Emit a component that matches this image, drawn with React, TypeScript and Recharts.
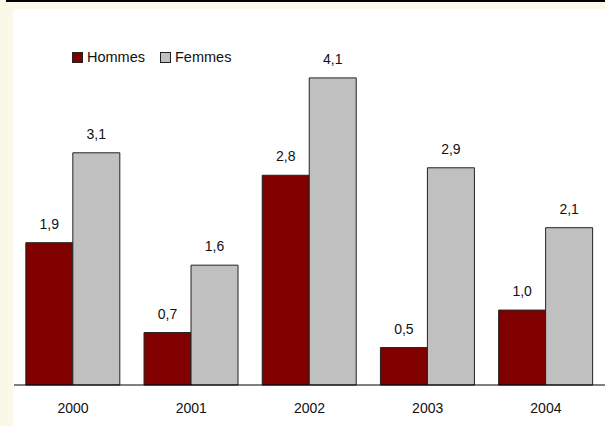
import { Bar, BarChart, LabelList, Legend, XAxis, YAxis } from "recharts";

const years = ["2000", "2001", "2002", "2003", "2004"];
const hommes = [1.9, 0.7, 2.8, 0.5, 1.0];
const femmes = [3.1, 1.6, 4.1, 2.9, 2.1];

const data = years.map((year, i) => ({ year, hommes: hommes[i], femmes: femmes[i] }));

const FONT = "'Liberation Sans', Arial, sans-serif";
const fmt = (v: unknown) => Number(v).toFixed(1).replace(".", ",");

function LegendBox() {
  const items = [
    { label: "Hommes", color: "#800000" },
    { label: "Femmes", color: "#C0C0C0" },
  ];
  return (
    <div style={{ display: "flex", alignItems: "center", fontFamily: FONT, fontSize: 14.5, color: "#111" }}>
      {items.map((it, i) => (
        <div key={it.label} style={{ display: "flex", alignItems: "center", marginRight: i === 0 ? 15 : 0 }}>
          <span style={{ width: 9, height: 9, background: it.color, border: "1px solid #222", marginRight: 4, display: "inline-block" }} />
          <span>{it.label}</span>
        </div>
      ))}
    </div>
  );
}

export default function App() {
  return (
    <div style={{ position: "absolute", top: 0, left: 0, width: 605, height: 426, background: "#FAF8E6", overflow: "hidden" }}>
      <div style={{ position: "absolute", top: 0, left: 6, width: 599, height: 2, background: "#000" }} />
      <div style={{ position: "absolute", top: 9, left: 13, width: 592, height: 417, background: "#fff" }} />
      <div style={{ position: "absolute", top: 0, left: 0 }}>
        <BarChart
          width={605}
          height={426}
          data={data}
          margin={{ top: 10.5, right: 0, bottom: 0, left: 14 }}
          barCategoryGap="10%"
          barGap={0}
        >
          <XAxis
            dataKey="year"
            height={41}
            tickLine={false}
            tickSize={0}
            tickMargin={18}
            axisLine={{ stroke: "#000", strokeWidth: 1 }}
            tick={{ fontSize: 14, fill: "#111", fontFamily: FONT }}
          />
          <YAxis hide domain={[0, 5]} />
          <Legend
            verticalAlign="middle"
            content={() => <LegendBox />}
            wrapperStyle={{ position: "absolute", top: 49, left: 72, width: "auto" }}
          />
          <Bar dataKey="hommes" name="Hommes" fill="#800000" stroke="#222" strokeWidth={1} isAnimationActive={false}>
            <LabelList dataKey="hommes" position="top" offset={14} formatter={fmt} style={{ fontSize: 14, fill: "#111", fontFamily: FONT }} />
          </Bar>
          <Bar dataKey="femmes" name="Femmes" fill="#C0C0C0" stroke="#222" strokeWidth={1} isAnimationActive={false}>
            <LabelList dataKey="femmes" position="top" offset={14} formatter={fmt} style={{ fontSize: 14, fill: "#111", fontFamily: FONT }} />
          </Bar>
        </BarChart>
      </div>
    </div>
  );
}
